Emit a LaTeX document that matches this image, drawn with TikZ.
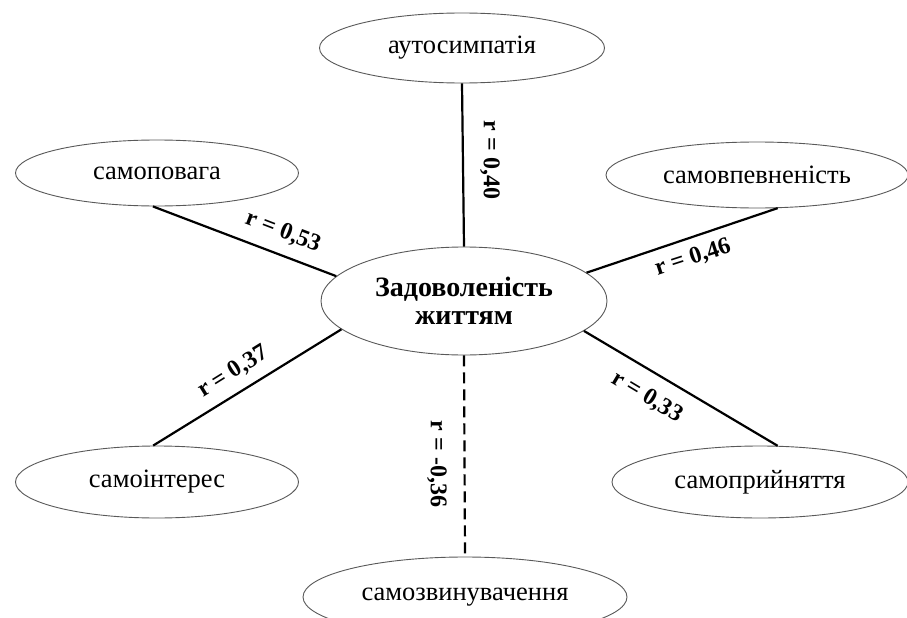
\documentclass[tikz,border=0pt]{standalone}
\usepackage{fontspec}
\setmainfont{Liberation Serif}
\usetikzlibrary{shapes.geometric}
\begin{document}
\begin{tikzpicture}[x=1pt,y=-1pt,
  ell/.style={ellipse, draw=black!65, line width=0.9pt, fill=white, inner sep=0pt,
    font=\fontsize{26.5}{29}\selectfont},
  conn/.style={line width=2.2pt, black},
  negconn/.style={conn, dash pattern=on 11pt off 6pt},
  lbl/.style={font=\bfseries\fontsize{24}{26}\selectfont, inner sep=0pt}]
\useasboundingbox[fill=white] (0,0) rectangle (907,618);
\clip (0,0) rectangle (907,618);
% nodes
\node[ell, minimum width=286pt, minimum height=108pt, align=center,
  font=\bfseries\fontsize{28}{28.5}\selectfont] (c) at (464,301) {Задоволеність\\життям};
\node[ell, minimum width=285pt, minimum height=70pt] (a) at (462,48) {аутосимпатія};
\node[ell, minimum width=283pt, minimum height=66pt] (sp) at (157,173) {самоповага};
\node[ell, minimum width=302pt, minimum height=66pt] (sv) at (757,175) {самовпевненість};
\node[ell, minimum width=283pt, minimum height=72pt] (si) at (157,482) {самоінтерес};
\node[ell, minimum width=296pt, minimum height=72pt] (spr) at (760,482) {самоприйняття};
\node[ell, minimum width=324pt, minimum height=80pt] (z) at (465,597) {самозвинувачення};
% connectors
\draw[conn] (a.south) -- (c.north);
\draw[conn] (sp.-97) -- (c.169);
\draw[conn] (sv.-58) -- (c.13);
\draw[conn] (si.96) -- (c.-167);
\draw[conn] (spr.64) -- (c.-14);
\draw[negconn] (c.south) -- (z.north);
% labels
\node[lbl, rotate=-90] (l40) at (490,160) {r = 0,40};
\node[lbl, rotate=-21] (l53) at (283,232) {r = 0,53};
\node[lbl, rotate=18] (l46) at (693,258) {r = 0,46};
\node[lbl, rotate=32] (l37) at (233,372) {r = 0,37};
\node[lbl, rotate=-31] (l33) at (647,397) {r = 0,33};
\node[lbl, rotate=-90] (l36) at (437,464) {r = -0,36};
\end{tikzpicture}
\end{document}
